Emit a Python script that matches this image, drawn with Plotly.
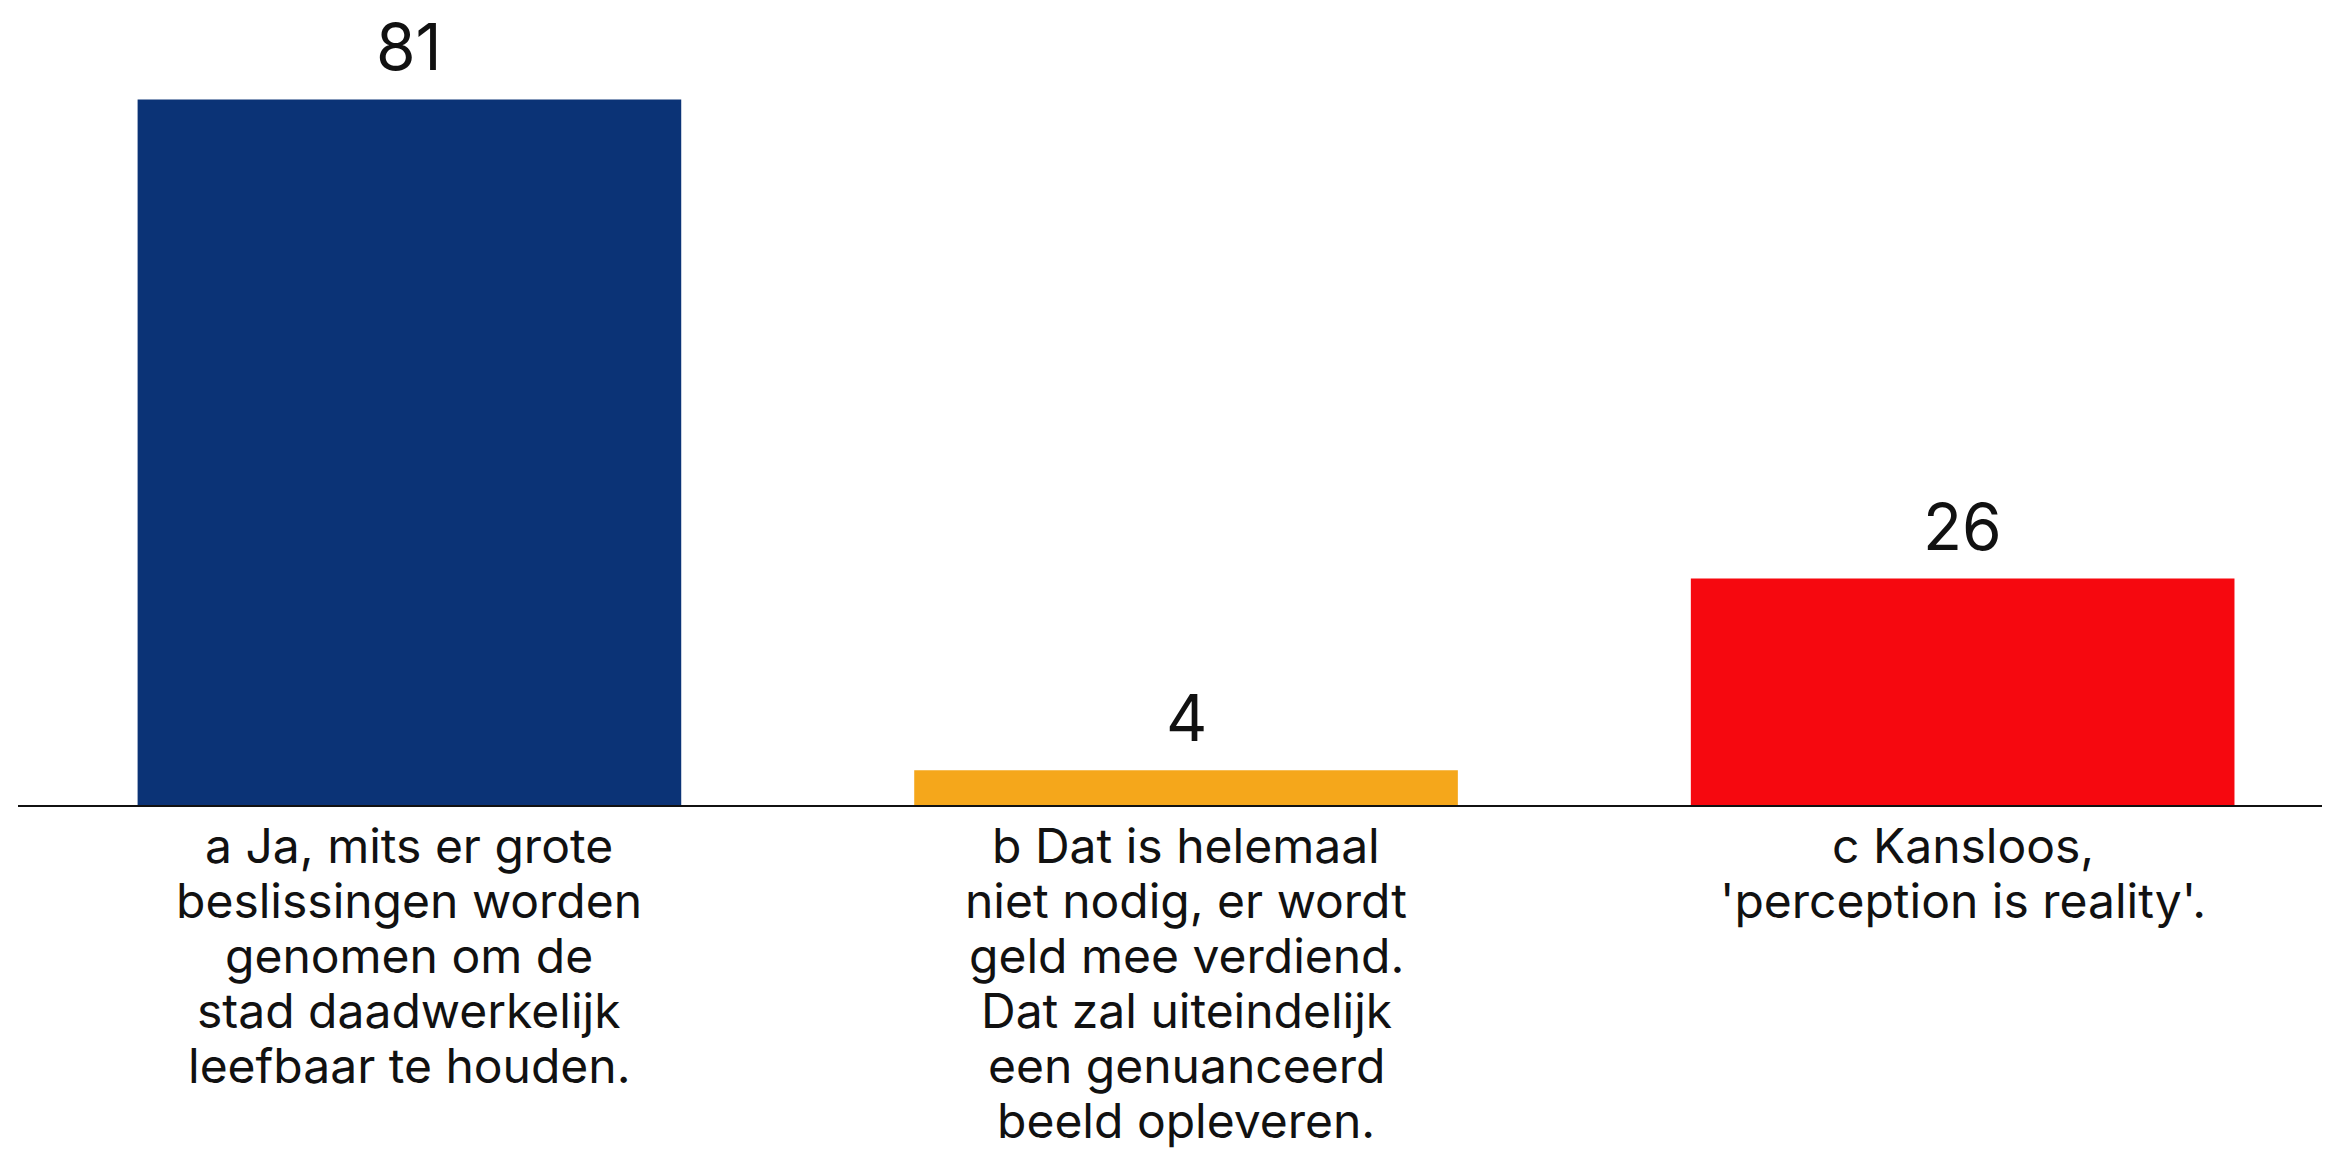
import plotly.graph_objects as go

categories = ["a", "b", "c"]
label_lines = [
    ["a Ja, mits er grote", "beslissingen worden", "genomen om de",
     "stad daadwerkelijk", "leefbaar te houden."],
    ["b Dat is helemaal", "niet nodig, er wordt", "geld mee verdiend.",
     "Dat zal uiteindelijk", "een genuanceerd", "beeld opleveren."],
    ["c Kansloos,", "'perception is reality'."],
]
values = [81, 4, 26]
colors = ["#0b3376", "#f5a71b", "#f6080f"]

FONT = "Inter, Poppins, Lato, sans-serif"
LABEL_SIZE = 48
LINE_STEP = 55

fig = go.Figure()
fig.add_trace(go.Bar(
    x=list(range(len(categories))),
    y=values,
    marker=dict(color=colors, line=dict(width=0)),
    width=0.7,
    hoverinfo="skip",
))

for i, v in enumerate(values):
    fig.add_annotation(
        x=i, y=v, text=str(v), showarrow=False,
        yanchor="bottom", yshift=12,
        font=dict(family=FONT, size=64, color="#111111"),
    )

for i, lines in enumerate(label_lines):
    for j, line in enumerate(lines):
        fig.add_annotation(
            x=i, y=0, text=line, showarrow=False,
            yanchor="middle", yshift=-40 - LINE_STEP * j,
            font=dict(family=FONT, size=LABEL_SIZE, color="#111111"),
        )

fig.update_layout(
    width=2322, height=1145,
    margin=dict(l=10, r=0, t=0, b=348),
    paper_bgcolor="white", plot_bgcolor="white",
    showlegend=False,
    xaxis=dict(
        range=[-0.504, 2.473],
        showticklabels=False,
        showgrid=False, zeroline=False,
        showline=True, linecolor="#111111", linewidth=2,
        ticks="",
    ),
    yaxis=dict(
        range=[0, 91.5],
        visible=False, showgrid=False, zeroline=False,
    ),
)

fig.write_html("out.html")
